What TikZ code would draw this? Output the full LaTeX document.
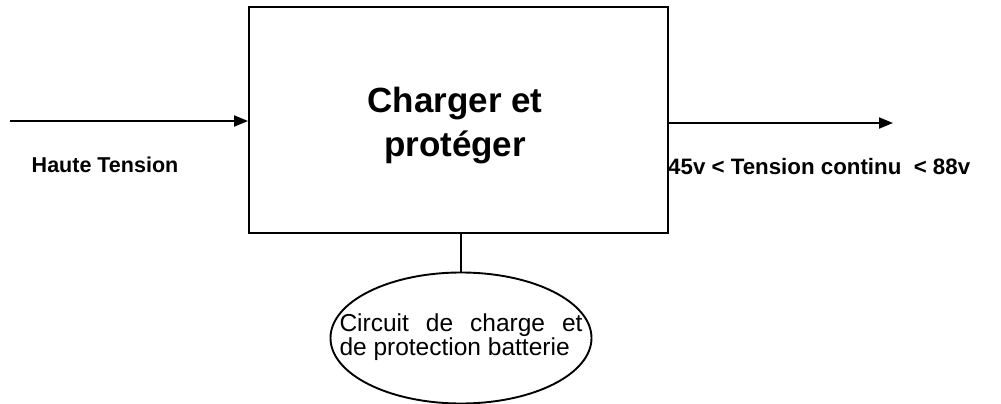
\documentclass[tikz,border=0pt]{standalone}
\usepackage{fontspec}
\setmainfont{Liberation Sans}
\usetikzlibrary{arrows.meta,shapes.geometric}
\begin{document}
\begin{tikzpicture}[x=1pt,y=-1pt,
  line/.style={line width=1.9pt},
  arr/.style={line, -{Triangle[length=14pt,width=11pt]}},
  lbl/.style={inner sep=0pt, font=\bfseries\fontsize{21.5}{24}\selectfont}]
\useasboundingbox (0,0) rectangle (1001,404);
\node[line, draw, rectangle, minimum width=419pt, minimum height=226pt, inner sep=0pt] (box) at (458.5,120) {};
\node[align=center, inner sep=0pt, font=\bfseries\fontsize{35}{44}\selectfont] (title) at (455,126) {Charger et\\prot\'eger};
\coordinate (inStart) at (10,121);
\coordinate (outEnd) at (893,123);
\draw[arr] (inStart) -- (inStart -| box.west);
\draw[arr] (outEnd -| box.east) -- (outEnd);
\node[lbl, anchor=base] (hv) at (105,172) {Haute Tension};
\node[lbl, anchor=base west, font=\bfseries\fontsize{22.3}{24}\selectfont] (dc) at (668,174) {45v < Tension continu \ < 88v};
\node[line, draw, ellipse, minimum width=261pt, minimum height=131pt, inner sep=0pt] (bat) at (461,338) {};
\node[align=left, inner sep=0pt, font=\fontsize{24.5}{21}\selectfont] (battext) at (461,337.5) {\makebox[243pt][s]{Circuit de charge et}\\de protection batterie};
\draw[line] (bat.north |- box.south) -- (bat.north);
\end{tikzpicture}
\end{document}
